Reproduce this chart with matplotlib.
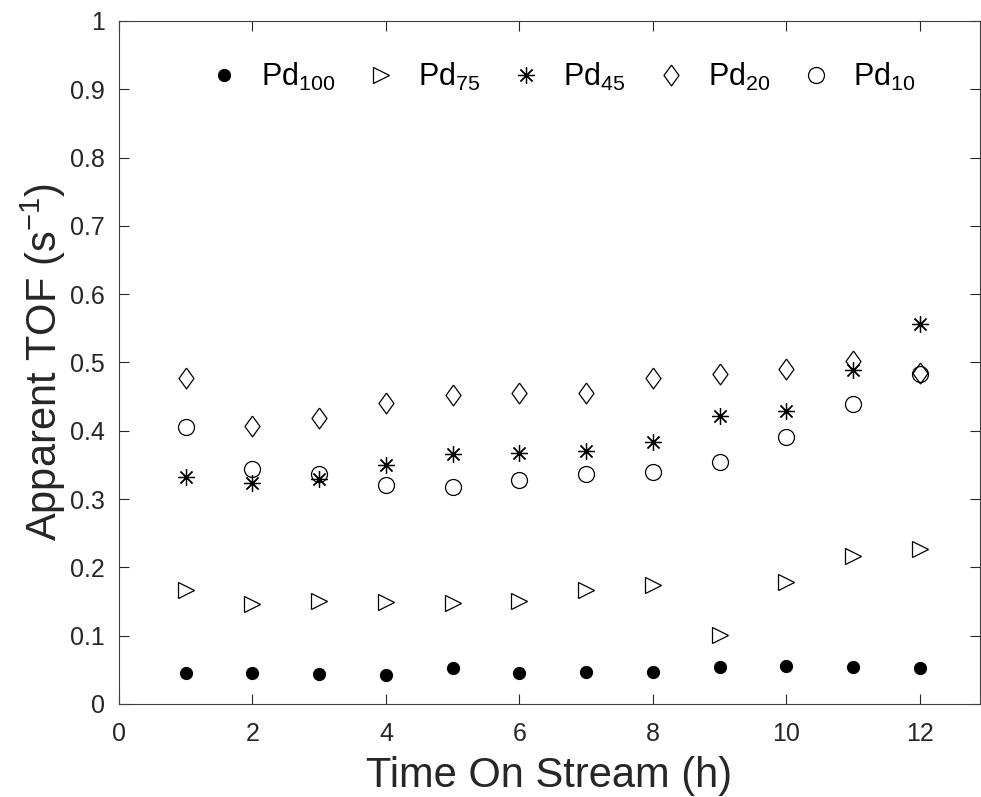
import matplotlib
matplotlib.use("Agg")
import matplotlib.pyplot as plt

plt.rcParams['font.family'] = ['Liberation Sans', 'DejaVu Sans']
plt.rcParams['mathtext.fontset'] = 'custom'
plt.rcParams['mathtext.rm'] = 'Liberation Sans'
plt.rcParams['mathtext.it'] = 'Liberation Sans'
plt.rcParams['mathtext.default'] = 'regular'

# time on stream (h)
hours = [1, 2, 3, 4, 5, 6, 7, 8, 9, 10, 11, 12]

# apparent TOF (1/s)
pd100 = [0.046, 0.045, 0.044, 0.043, 0.052, 0.045, 0.047, 0.047, 0.054, 0.055, 0.054, 0.052]
pd75 = [0.167, 0.146, 0.151, 0.150, 0.148, 0.151, 0.167, 0.174, 0.101, 0.179, 0.217, 0.227]
pd45 = [0.333, 0.324, 0.330, 0.350, 0.366, 0.368, 0.371, 0.383, 0.422, 0.429, 0.489, 0.557]
pd20 = [0.478, 0.407, 0.418, 0.440, 0.453, 0.455, 0.456, 0.477, 0.483, 0.490, 0.502, 0.484]
pd10 = [0.405, 0.344, 0.336, 0.321, 0.317, 0.328, 0.337, 0.340, 0.355, 0.391, 0.439, 0.483]

labels = [r'Pd$_{100}$', r'Pd$_{75}$', r'Pd$_{45}$', r'Pd$_{20}$', r'Pd$_{10}$']

x_ticks = [0, 2, 4, 6, 8, 10, 12]
y_ticks = [0, 0.1, 0.2, 0.3, 0.4, 0.5, 0.6, 0.7, 0.8, 0.9, 1]
y_ticklabels = ['0', '0.1', '0.2', '0.3', '0.4', '0.5', '0.6', '0.7', '0.8', '0.9', '1']

fig = plt.figure(figsize=(9.81, 7.97), dpi=100)
ax = fig.add_axes([0.1213, 0.1167, 0.8777, 0.857])

diamond = [(0, 1), (0.72, 0), (0, -1), (-0.72, 0), (0, 1)]

ax.plot(hours, pd100, linestyle='none', marker='o', markersize=8.5,
        color='black', label=labels[0])
ax.plot(hours, pd75, linestyle='none', marker='>', markersize=12,
        markerfacecolor='none', markeredgecolor='black', markeredgewidth=0.9,
        label=labels[1])
ax.plot(hours, pd45, linestyle='none', marker=(8, 2, 0), markersize=12,
        color='black', markeredgewidth=0.9, label=labels[2])
ax.plot(hours, pd20, linestyle='none', marker=diamond, markersize=15,
        markerfacecolor='none', markeredgecolor='black', markeredgewidth=0.9,
        label=labels[3])
ax.plot(hours, pd10, linestyle='none', marker='o', markersize=11.5,
        markerfacecolor='none', markeredgecolor='black', markeredgewidth=0.9,
        label=labels[4])

ax.set_xlim(0, 12.9)
ax.set_ylim(0, 1)
ax.set_xticks(x_ticks)
ax.set_yticks(y_ticks)
ax.set_yticklabels(y_ticklabels)

ax.tick_params(direction='in', top=True, right=True, length=7, width=0.8,
               color='#262626', labelsize=18, labelcolor='#262626', pad=10)
ax.tick_params(axis='x', pad=13)
for side in ax.spines.values():
    side.set_color('#404040')
    side.set_linewidth(0.8)

ax.set_xlabel('Time On Stream (h)', fontsize=30, color='#262626', labelpad=7)
ax.set_ylabel(r'Apparent TOF (s$^{-1}$)', fontsize=30, color='#262626', labelpad=1.5)

ax.legend(loc='upper center', bbox_to_anchor=(0.513, 0.959), ncol=5, frameon=False,
          fontsize=22, handletextpad=0.6, columnspacing=0.9, handlelength=1.2,
          borderaxespad=0)

fig.savefig('out.png', dpi=100)
